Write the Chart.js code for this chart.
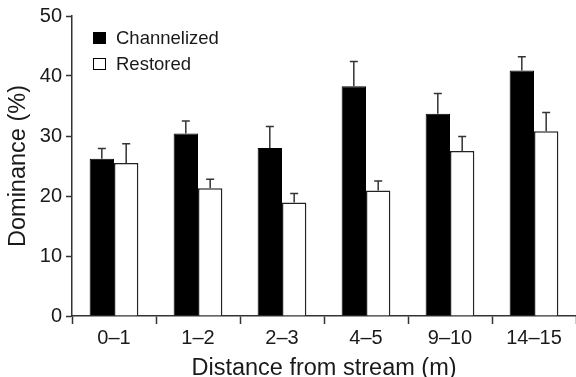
<!DOCTYPE html>
<html>
<head>
<meta charset="utf-8">
<script src="https://cdn.jsdelivr.net/npm/chart.js@4/dist/chart.umd.min.js"></script>
<style>
  html, body { margin: 0; padding: 0; background: #fff; }
  #wrap { width: 576px; height: 377px; }
</style>
</head>
<body>
<div id="wrap"><canvas id="domChart"></canvas></div>
<script>
// --- DATA ---
const distances = ['0\u20131', '1\u20132', '2\u20133', '4\u20135', '9\u201310', '14\u201315'];
const channelized = [26.2, 30.4, 28.0, 38.3, 33.7, 40.9];
const channelizedErr = [1.7, 2.1, 3.6, 4.1, 3.4, 2.3];
const restored = [25.5, 21.3, 18.9, 20.9, 27.5, 30.8];
const restoredErr = [3.2, 1.5, 1.5, 1.6, 2.4, 3.1];
const yTicks = [0, 10, 20, 30, 40, 50];

const FONT = '"Liberation Sans", Arial, Helvetica, sans-serif';
const INK = '#1a1a1a';

// error bars (upper only) drawn on top of each bar
const errorBars = {
    id: 'errorBars',
    afterDatasetsDraw(chart) {
        const ctx = chart.ctx;
        const y = chart.scales.y;
        const errs = [channelizedErr, restoredErr];
        ctx.save();
        ctx.strokeStyle = '#333';
        ctx.lineWidth = 1.5;
        chart.data.datasets.forEach((ds, di) => {
            chart.getDatasetMeta(di).data.forEach((bar, i) => {
                const top = y.getPixelForValue(ds.data[i] + errs[di][i]);
                ctx.beginPath();
                ctx.moveTo(bar.x, bar.y);
                ctx.lineTo(bar.x, top);
                ctx.moveTo(bar.x - 4, top);
                ctx.lineTo(bar.x + 4, top);
                ctx.stroke();
            });
        });
        ctx.restore();
    }
};

// legend inside the plot, top left
const boxLegend = {
    id: 'boxLegend',
    afterDraw(chart) {
        const ctx = chart.ctx;
        const x0 = chart.chartArea.left + 21;
        const rows = [[32, '#000', 'Channelized'], [58, '#fff', 'Restored']];
        ctx.save();
        ctx.font = '18.5px ' + FONT;
        ctx.textBaseline = 'middle';
        rows.forEach(r => {
            ctx.fillStyle = r[1];
            ctx.fillRect(x0, r[0], 13, 12);
            ctx.strokeStyle = '#000';
            ctx.lineWidth = 1;
            ctx.strokeRect(x0 + 0.5, r[0] + 0.5, 12, 11);
            ctx.fillStyle = INK;
            ctx.fillText(r[2], x0 + 23, r[0] + 6.5);
        });
        ctx.restore();
    }
};

new Chart(document.getElementById('domChart'), {
    type: 'bar',
    data: {
        labels: distances,
        datasets: [{
            label: 'Channelized',
            data: channelized,
            backgroundColor: '#000',
            borderColor: '#000',
            borderWidth: 1
        }, {
            label: 'Restored',
            data: restored,
            backgroundColor: '#fff',
            borderColor: '#222',
            borderWidth: 1.5
        }]
    },
    options: {
        responsive: true,
        maintainAspectRatio: false,
        animation: false,
        layout: { padding: { top: 11, right: 0, left: 4, bottom: 0 } },
        datasets: { bar: { categoryPercentage: 0.58, barPercentage: 1.0 } },
        plugins: { legend: { display: false }, tooltip: { enabled: false } },
        scales: {
            x: {
                grid: { offset: true, drawOnChartArea: false, tickLength: 8, tickColor: '#333', tickWidth: 1.5 },
                border: { color: '#333', width: 1.5 },
                ticks: { color: INK, font: { family: FONT, size: 20 }, padding: 2 },
                title: { display: true, text: 'Distance from stream (m)', color: INK, font: { family: FONT, size: 23.5 }, padding: { top: 0, bottom: -6 } },
                afterFit: s => { s.height = 61; }
            },
            y: {
                min: 0,
                max: 50,
                afterBuildTicks: s => { s.ticks = yTicks.map(v => ({ value: v })); },
                grid: { drawOnChartArea: false, tickLength: 6, tickColor: '#333', tickWidth: 1.5 },
                border: { color: '#333', width: 1.5 },
                ticks: { color: INK, font: { family: FONT, size: 20 }, padding: 4 },
                title: { display: true, text: 'Dominance (%)', color: INK, font: { family: FONT, size: 23.5 }, padding: 0 },
                afterFit: s => { s.width = 68; }
            }
        }
    },
    plugins: [errorBars, boxLegend]
});
</script>
</body>
</html>
